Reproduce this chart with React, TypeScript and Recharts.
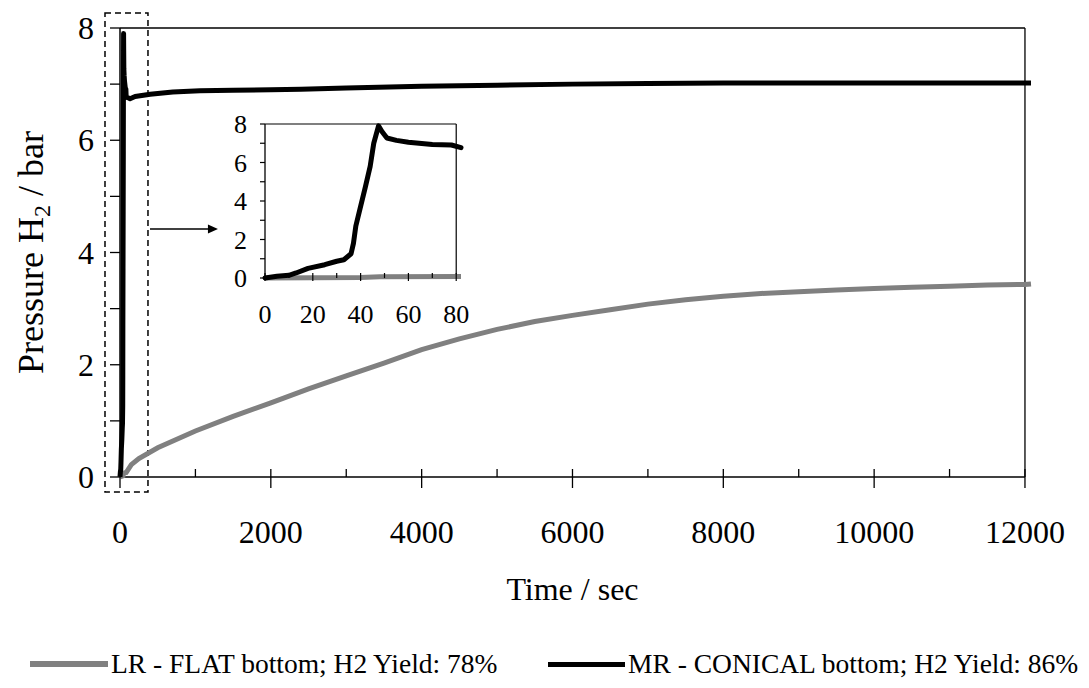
import React from 'react';
import { LineChart, Line, XAxis, YAxis, ReferenceLine, ReferenceArea, Label } from 'recharts';

// ---- data ----
const mrTimes = [0, 5, 10, 13, 18, 25, 30, 33, 36, 37, 38, 40, 42, 44, 45.5, 47.5, 49, 51, 55, 60, 70, 78, 82,
  100, 133, 200, 400, 700, 1060, 1500, 2000, 2400, 3000,
  4000, 5000, 6000, 7000, 8000, 9000, 10000, 11000, 12000, 12080];
const mrPressures = [0, 0.09, 0.14, 0.26, 0.5, 0.69, 0.87, 0.95, 1.26, 1.8, 2.7, 3.72, 4.73, 5.8, 7.0, 7.9, 7.6, 7.27, 7.15, 7.05, 6.93, 6.91, 6.77,
  6.76, 6.74, 6.78, 6.82, 6.86, 6.88, 6.89, 6.9, 6.91, 6.93,
  6.96, 6.98, 7.0, 7.01, 7.02, 7.02, 7.02, 7.02, 7.02, 7.02];

const lrTimes = [0, 20, 40, 48, 82, 150, 250, 500, 1000, 1500, 2000, 2500, 3000, 3500, 4000, 4500, 5000, 5500, 6000,
  6500, 7000, 7500, 8000, 8500, 9000, 9500, 10000, 10500, 11000, 11500, 12000, 12080];
const lrPressures = [0, 0.01, 0.02, 0.07, 0.08, 0.22, 0.33, 0.52, 0.82, 1.08, 1.32, 1.57, 1.8, 2.03, 2.27, 2.46, 2.63, 2.77, 2.88,
  2.98, 3.08, 3.16, 3.22, 3.27, 3.3, 3.33, 3.36, 3.38, 3.4, 3.42, 3.43, 3.44];

const seriesNames = ['LR - FLAT bottom; H2 Yield: 78%', 'MR - CONICAL bottom; H2 Yield: 86%'];
const seriesColors = ['#808080', '#000000'];

const mainXTicks = [0, 1000, 2000, 3000, 4000, 5000, 6000, 7000, 8000, 9000, 10000, 11000, 12000];
const mainYTicks = [0, 1, 2, 3, 4, 5, 6, 7, 8];
const insetXTicks = [0, 10, 20, 30, 40, 50, 60, 70, 80];
const insetYTicks = [0, 1, 2, 3, 4, 5, 6, 7, 8];
const insetMaxTime = 82;

const zip = (ts: number[], ps: number[]) => ts.map((t, i) => ({ t, p: ps[i] }));
const lrData = zip(lrTimes, lrPressures);
const mrData = zip(mrTimes, mrPressures);
const lrInset = lrData.filter((d) => d.t <= insetMaxTime);
const mrInset = mrData.filter((d) => d.t <= insetMaxTime);

const FONT = "'Liberation Serif', 'Times New Roman', Times, serif";

function MainXTick(props: any) {
  const { x, y, payload } = props;
  const v = payload.value;
  const major = v % 2000 === 0;
  return (
    <g>
      <line x1={x} x2={x} y1={y - 8} y2={major ? y + 11 : y} stroke="#000" strokeWidth={1.3} />
      {major && (
        <text x={x} y={y + 66} textAnchor="middle" fontSize={32} fontFamily={FONT} fill="#000">
          {v}
        </text>
      )}
    </g>
  );
}

function MainYTick(props: any) {
  const { x, y, payload } = props;
  const v = payload.value;
  return (
    <g>
      <line x1={x - 10} x2={x} y1={y} y2={y} stroke="#000" strokeWidth={1.3} />
      {v % 2 === 0 && (
        <text x={x - 26} y={y + 11} textAnchor="end" fontSize={32} fontFamily={FONT} fill="#000">
          {v}
        </text>
      )}
    </g>
  );
}

function InsetXTick(props: any) {
  const { x, y, payload } = props;
  const v = payload.value;
  const major = v % 20 === 0;
  return (
    <g>
      <line x1={x} x2={x} y1={y - 5} y2={major ? y + 3 : y} stroke="#000" strokeWidth={1.2} />
      {major && (
        <text x={x} y={y + 45} textAnchor="middle" fontSize={26} fontFamily={FONT} fill="#000">
          {v}
        </text>
      )}
    </g>
  );
}

function InsetYTick(props: any) {
  const { x, y, payload } = props;
  const v = payload.value;
  return (
    <g>
      <line x1={x - 5} x2={x} y1={y} y2={y} stroke="#000" strokeWidth={1.2} />
      {v % 2 === 0 && (
        <text x={x - 18} y={y + 9} textAnchor="end" fontSize={26} fontFamily={FONT} fill="#000">
          {v}
        </text>
      )}
    </g>
  );
}

const ArrowShape = (props: any) => {
  const { x1, y1, x2, y2 } = props;
  const head = 10;
  const half = 4.5;
  return (
    <g>
      <line x1={x1} y1={y1} x2={x2 - head + 1} y2={y2} stroke="#000" strokeWidth={1.5} />
      <polygon points={`${x2},${y2} ${x2 - head},${y2 - half} ${x2 - head},${y2 + half}`} fill="#000" />
    </g>
  );
};

function MainChart() {
  return (
    <LineChart width={1089} height={688} margin={{ top: 28, right: 58, bottom: 131, left: 0 }}>
      <XAxis
        type="number"
        dataKey="t"
        domain={[0, 12080]}
        ticks={mainXTicks}
        interval={0}
        axisLine={false}
        tickLine={false}
        tickSize={0}
        tickMargin={0}
        height={80}
        tick={(p: any) => <MainXTick {...p} />}
      >
        <Label
          content={(p: any) => {
            const vb = p.viewBox || { x: 120, y: 477, width: 911 };
            const cx = vb.x + (vb.width * 6000) / 12080;
            return (
              <text x={cx} y={vb.y + 123} textAnchor="middle" fontSize={32} fontFamily={FONT} fill="#000">
                Time / sec
              </text>
            );
          }}
        />
      </XAxis>
      <YAxis
        type="number"
        domain={[0, 8]}
        ticks={mainYTicks}
        interval={0}
        width={120}
        axisLine={{ stroke: '#000', strokeWidth: 1.5 }}
        tickLine={false}
        tickSize={0}
        tickMargin={0}
        tick={(p: any) => <MainYTick {...p} />}
      >
        <Label
          content={(p: any) => {
            const vb = p.viewBox || { y: 28, height: 449 };
            const cy = vb.y + vb.height / 2;
            return (
              <text transform={`translate(43, ${cy}) rotate(-90)`} textAnchor="middle" fontSize={36} fontFamily={FONT} fill="#000">
                Pressure H<tspan dy={7} fontSize={24}>2</tspan>
                <tspan dy={-7}> / bar</tspan>
              </text>
            );
          }}
        />
      </YAxis>
      {/* plot frame */}
      <ReferenceLine segment={[{ x: 0, y: 0 }, { x: 12000, y: 0 }]} stroke="#000" strokeWidth={1.5} ifOverflow="visible" />
      <ReferenceLine segment={[{ x: 0, y: 8 }, { x: 12000, y: 8 }]} stroke="#000" strokeWidth={1.3} ifOverflow="visible" />
      <ReferenceLine segment={[{ x: 12000, y: 0 }, { x: 12000, y: 8 }]} stroke="#000" strokeWidth={1.3} ifOverflow="visible" />
      {/* dashed zoom box */}
      <ReferenceArea
        x1={-199}
        x2={371}
        y1={-0.267}
        y2={8.267}
        ifOverflow="visible"
        fill="none"
        fillOpacity={0}
        stroke="#000"
        strokeWidth={1.5}
        strokeDasharray="6 4"
      />
      {/* arrow to the inset */}
      <ReferenceLine
        segment={[{ x: 398, y: 4.42 }, { x: 1299, y: 4.42 }]}
        ifOverflow="visible"
        shape={ArrowShape}
      />
      <Line
        data={lrData}
        dataKey="p"
        name={seriesNames[0]}
        type="linear"
        stroke={seriesColors[0]}
        strokeWidth={5}
        dot={false}
        isAnimationActive={false}
      />
      <Line
        data={mrData}
        dataKey="p"
        name={seriesNames[1]}
        type="linear"
        stroke={seriesColors[1]}
        strokeWidth={5}
        strokeLinejoin="round"
        dot={false}
        isAnimationActive={false}
      />
    </LineChart>
  );
}

function InsetChart() {
  return (
    <LineChart width={270} height={240} margin={{ top: 24, right: 9, bottom: 22, left: 0 }}>
      <XAxis
        type="number"
        dataKey="t"
        domain={[0, insetMaxTime]}
        ticks={insetXTicks}
        interval={0}
        axisLine={false}
        tickLine={false}
        tickSize={0}
        tickMargin={0}
        height={40}
        tick={(p: any) => <InsetXTick {...p} />}
      />
      <YAxis
        type="number"
        domain={[0, 8]}
        ticks={insetYTicks}
        interval={0}
        width={65}
        axisLine={{ stroke: '#000', strokeWidth: 1.3 }}
        tickLine={false}
        tickSize={0}
        tickMargin={0}
        tick={(p: any) => <InsetYTick {...p} />}
      />
      <ReferenceLine segment={[{ x: 0, y: 0 }, { x: 80, y: 0 }]} stroke="#000" strokeWidth={1.3} ifOverflow="visible" />
      <ReferenceLine segment={[{ x: 0, y: 8 }, { x: 80, y: 8 }]} stroke="#000" strokeWidth={1.2} ifOverflow="visible" />
      <ReferenceLine segment={[{ x: 80, y: 0 }, { x: 80, y: 8 }]} stroke="#000" strokeWidth={1.2} ifOverflow="visible" />
      <Line
        data={lrInset}
        dataKey="p"
        name={seriesNames[0]}
        type="linear"
        stroke={seriesColors[0]}
        strokeWidth={5}
        dot={false}
        isAnimationActive={false}
      />
      <Line
        data={mrInset}
        dataKey="p"
        name={seriesNames[1]}
        type="linear"
        stroke={seriesColors[1]}
        strokeWidth={5}
        strokeLinejoin="round"
        strokeLinecap="round"
        dot={false}
        isAnimationActive={false}
      />
    </LineChart>
  );
}

function LegendItem({ left, color, thickness, label, lineWidth }: any) {
  return (
    <div style={{ position: 'absolute', left, top: 0, display: 'flex', alignItems: 'center', whiteSpace: 'nowrap' }}>
      <div style={{ width: lineWidth, height: thickness, background: color, marginRight: 3 }} />
      <span style={{ fontFamily: FONT, fontSize: 27.5, color: '#000', lineHeight: '32px' }}>{label}</span>
    </div>
  );
}

export default function App() {
  return (
    <div style={{ position: 'absolute', left: 0, top: 0, width: 1089, height: 688, background: '#fff', overflow: 'hidden' }}>
      <MainChart />
      <div style={{ position: 'absolute', left: 200, top: 100, width: 270, height: 240 }}>
        <InsetChart />
      </div>
      <div style={{ position: 'absolute', left: 0, top: 648, width: 1089, height: 32 }}>
        <LegendItem left={30} color={seriesColors[0]} thickness={6} lineWidth={78} label={seriesNames[0]} />
        <LegendItem left={548} color={seriesColors[1]} thickness={5} lineWidth={77} label={seriesNames[1]} />
      </div>
    </div>
  );
}
